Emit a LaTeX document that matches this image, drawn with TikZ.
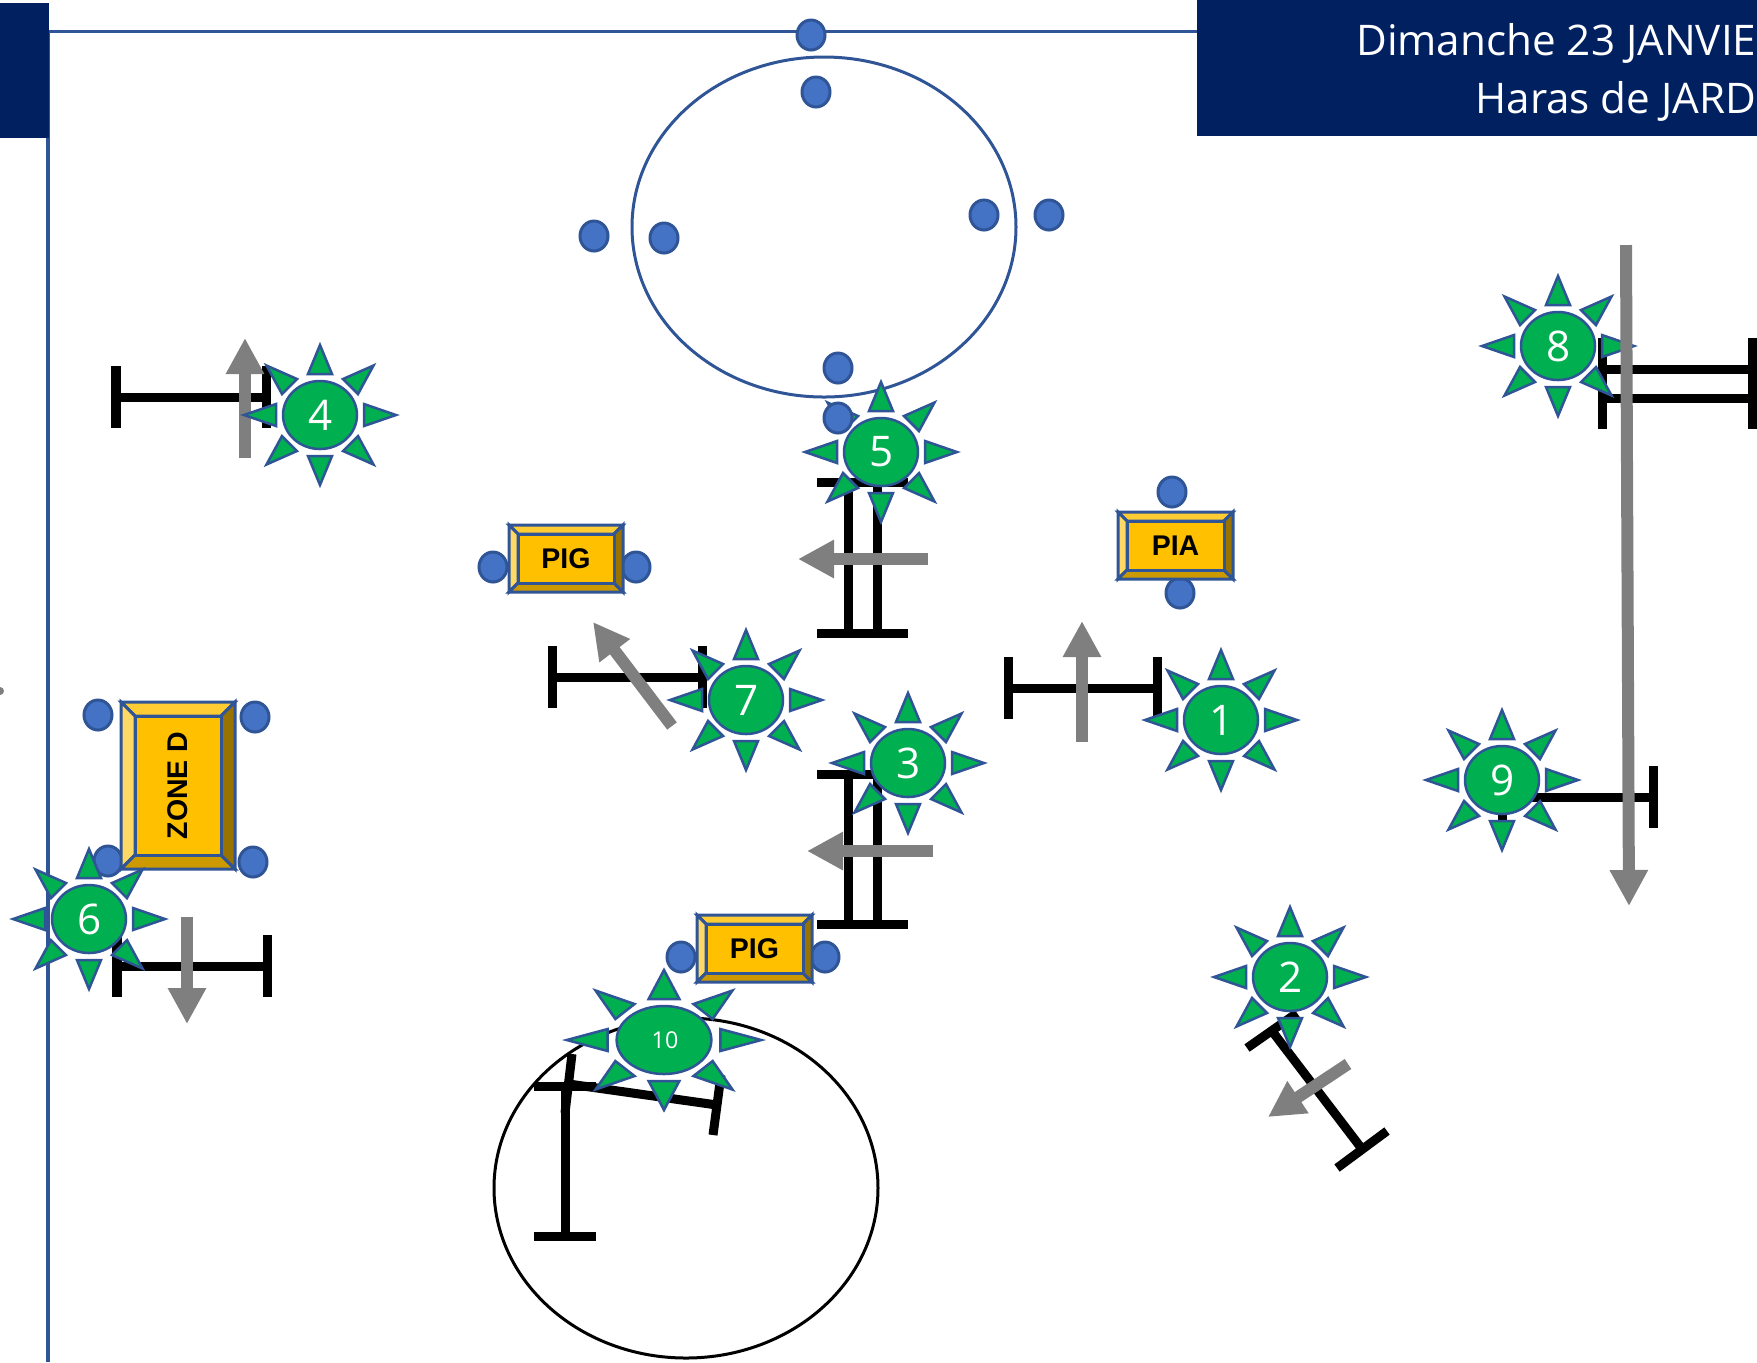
\documentclass[tikz,border=0pt]{standalone}
\usepackage{fontspec}
\setmainfont{Open Sans}
\newfontfamily\boxfont{Liberation Sans}
\usetikzlibrary{arrows.meta}
\definecolor{navyband}{HTML}{002060}
\definecolor{edgeblue}{HTML}{2F5597}
\definecolor{dotblue}{HTML}{4472C4}
\definecolor{sungreen}{HTML}{00B050}
\definecolor{moveGray}{HTML}{7F7F7F}
\tikzset{
	fieldline/.style={line width=0.03cm,color=edgeblue},
	barline/.style={line width=0.09cm,color=black},
	movearrow/.style={line width=0.12cm,color=moveGray,-{Triangle[length=0.36cm,width=0.36cm]}},
	bluedot/.style={fill=dotblue,draw=edgeblue,line width=0.03cm},
	sunpart/.style={fill=sungreen,draw=edgeblue,line width=0.025cm,line join=miter},
	bevelside/.style={draw=edgeblue,line width=0.03cm}
}
\begin{document}
\begin{tikzpicture}[x=0.01cm,y=-0.01cm]
		\clip (0,0) rectangle (1757,1362);
		% field
		\draw[fieldline] (48,30) -- (48,1362);
		\draw[fieldline] (48,31) -- (1197,31);
		\fill[color=navyband] (0,3) rectangle (49,138);
		\fill[color=navyband] (1197,0) rectangle (1757,136);
		\fill[color=moveGray] (0,691) circle (4);
		\node[anchor=base east,inner sep=0pt,text=white,font=\fontsize{12}{12}\selectfont] (dateline) at (1757,55) {Dimanche 23 JANVIE};
		\node[anchor=base east,inner sep=0pt,text=white,font=\fontsize{12}{12}\selectfont] (placeline) at (1757,113) {Haras de JARD};
		
		% zones
		\draw[fieldline] (824,227) ellipse (192 and 170);
		\draw[line width=0.03cm] (686,1188) ellipse (192 and 170);
		
		% dots
		\foreach \x/\y in {811/35,816/92,594/236,664/238,984/215,1049/215,838/368,493/567,636/567,1172/492,1180/593,98/715,255/717,108/861,253/862,681/957,825/957}
		\draw[bluedot] (\x,\y) ellipse (14 and 15);
		
		% boxes
		\foreach \nm/\xa/\ya/\xb/\yb/\d/\r/\lb in {pigup/509/525/623/592/9/0/PIG,pia/1118/512/1233/579/9/0/PIA,zoned/121/702/235/869/14/90/ZONE D,piglow/697/915/812/982/9/0/PIG} {
			\draw[bevelside,fill={rgb,255:red,255;green,205;blue,51}] (\xa,\ya) -- (\xb,\ya) -- (\xb-\d,\ya+\d) -- (\xa+\d,\ya+\d) -- cycle;
			\draw[bevelside,fill={rgb,255:red,255;green,217;blue,102}] (\xa,\ya) -- (\xa+\d,\ya+\d) -- (\xa+\d,\yb-\d) -- (\xa,\yb) -- cycle;
			\draw[bevelside,fill={rgb,255:red,204;green,154;blue,0}] (\xa,\yb) -- (\xa+\d,\yb-\d) -- (\xb-\d,\yb-\d) -- (\xb,\yb) -- cycle;
			\draw[bevelside,fill={rgb,255:red,153;green,115;blue,0}] (\xb,\ya) -- (\xb,\yb) -- (\xb-\d,\yb-\d) -- (\xb-\d,\ya+\d) -- cycle;
			\draw[bevelside,fill={rgb,255:red,255;green,192;blue,0}] (\xa+\d,\ya+\d) rectangle (\xb-\d,\yb-\d);
			\node[rotate=\r,inner sep=0pt,font=\boxfont\bfseries\fontsize{8.1}{8.1}\selectfont] (\nm) at ({(\xa+\xb)/2},{(\ya+\yb)/2}) {\lb};
		}
		
		% bars
		\foreach \xa/\xb/\y in {116/266/397,117/267/966,552/702/677,1008/1157/688,1502/1653/797,1602/1752/369,1602/1752/398}
		\draw[barline] (\xa,\y-31) -- (\xa,\y+31) (\xa,\y) -- (\xb,\y) (\xb,\y-31) -- (\xb,\y+31);
		\foreach \x/\ya/\yb in {848/482/633,877/482/633,848/774/924,877/774/924,565/1086/1236}
		\draw[barline] (\x-31,\ya) -- (\x+31,\ya) (\x,\ya) -- (\x,\yb) (\x-31,\yb) -- (\x+31,\yb);
		\draw[barline] (572,1054) -- (565,1113) (569,1084) -- (717,1105) (721,1075) -- (713,1135);
		\draw[barline] (1247,1048) -- (1297,1013) (1272,1031) -- (1362,1149) (1337,1168) -- (1387,1131);
		
		% moves
		\foreach \xa/\ya/\xb/\yb in {245/458/245/338,187/917/187/1024,928/559/798/559,933/851/807/851,672/726/593/622,1082/742/1082/621,1348/1064/1268/1117}
		\draw[movearrow] (\xa,\ya) -- (\xb,\yb);
		
		% players
		\foreach \n/\x/\y/\k/\fsz in {1/1221/720/1/12,2/1290/977/1/12,3/908/763/1/12,4/320/415/1/12,5/881/452/1/12,6/89/919/1/12,7/746/700/1/12,8/1558/346/1/12,9/1502/780/1/12,10/664/1040/1.28/6.6} {
			\begin{scope}[shift={(\x,\y)},xscale=\k]
				\foreach \s in {1,-1} {
					\draw[sunpart] (0,\s*70) -- (12,\s*41) -- (-12,\s*41) -- cycle;
					\draw[sunpart] (\s*76,0) -- (\s*44,11) -- (\s*44,-11) -- cycle;
					\draw[sunpart] (\s*53.5,-49.5) -- (\s*23,-36) -- (\s*38,-21) -- cycle;
					\draw[sunpart] (\s*53.5,49.5) -- (\s*23,36) -- (\s*38,21) -- cycle;
				}
				\draw[sunpart] (0,0) ellipse (37 and 34);
			\end{scope}
			\node[inner sep=0pt,text=white,font=\fontsize{\fsz}{\fsz}\selectfont] (player\n) at (\x+1,\y) {\n};
		}
		
		% on top
		\draw[bluedot] (838,418) ellipse (14 and 15);
		\draw[movearrow] (1626,245) -- (1629,906);
\end{tikzpicture}
\end{document}
